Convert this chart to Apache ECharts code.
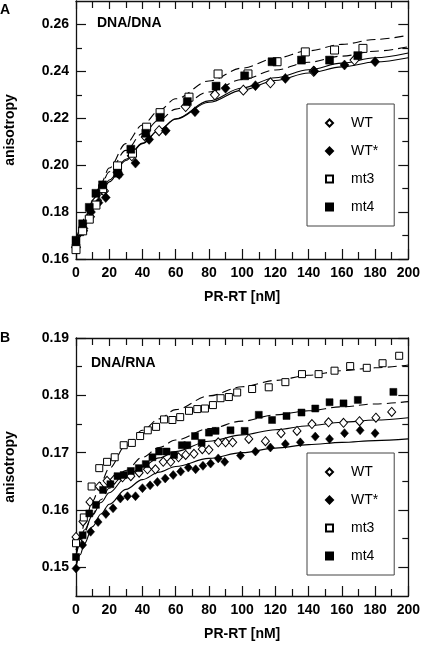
<!DOCTYPE html>
<html><head><meta charset="utf-8">
<script src="https://cdn.jsdelivr.net/npm/echarts@6/dist/echarts.min.js"></script>
<style>html,body{margin:0;padding:0;background:#fff}#c{width:423px;height:648px}</style>
</head><body><div id="c"></div>
<script>
// ---- tick values ----
const xMajor = [0,20,40,60,80,100,120,140,160,180,200];
const xMinor = [10,30,50,70,90,110,130,150,170,190];
const aYMajor = [0.16,0.18,0.20,0.22,0.24,0.26];
const aYMinor = [0.17,0.19,0.21,0.23,0.25];
const bYMajor = [0.15,0.16,0.17,0.18,0.19];
const bYMinor = [0.155,0.165,0.175,0.185];
const legendNames = ['WT','WT*','mt3','mt4'];

// ---- panel A data (DNA/DNA) ----
const aWT  = [[0,0.165],[4.2,0.172],[8.4,0.178],[12.6,0.185],[16.8,0.189],[25,0.197],[33.6,0.204],[42,0.212],[50,0.2147],[66,0.225],[83.6,0.230],[100.7,0.232],[117,0.2351],[143,0.240],[167.6,0.2448]];
const aWTs = [[0,0.166],[4.5,0.173],[9,0.180],[13.5,0.184],[17.9,0.1862],[26,0.196],[35.8,0.2009],[44,0.211],[54,0.2147],[71.6,0.2228],[90,0.2328],[108,0.2339],[126,0.2370],[143.4,0.2401],[161.6,0.2427],[180,0.2441]];
const aMt3 = [[0,0.164],[4,0.172],[8,0.177],[12,0.183],[16,0.190],[25,0.1997],[34,0.2051],[42.5,0.2162],[50.6,0.2224],[68,0.229],[85.5,0.2389],[103.5,0.2389],[121,0.2441],[138,0.2483],[155.6,0.2491],[172.7,0.2498]];
const aMt4 = [[0,0.168],[4,0.175],[8,0.182],[12,0.188],[16,0.1916],[25,0.1966],[33,0.2068],[42,0.2136],[50.6,0.2204],[67,0.2271],[84.3,0.2337],[101.5,0.2381],[118,0.2441],[135.7,0.2448],[152.6,0.2448],[169.6,0.2467]];

// ---- panel B data (DNA/RNA) ----
const bWT  = [[0,0.1553],[4.2,0.158],[8.4,0.1614],[14,0.1641],[18.7,0.1651],[23,0.1653],[28,0.1657],[33,0.1659],[38,0.1665],[43,0.1671],[47.8,0.1671],[52.5,0.1684],[57,0.1684],[61.7,0.1692],[66,0.1696],[71,0.1698],[76,0.1706],[80,0.1705],[85.6,0.1718],[90,0.1718],[94.3,0.1718],[104,0.1724],[114,0.1720],[123.4,0.1734],[133,0.1738],[142,0.1750],[152,0.1753],[161,0.1752],[170.6,0.1755],[180.5,0.1761],[190,0.1771]];
const bWTs = [[0,0.1498],[4,0.1539],[8.8,0.1562],[13.3,0.1579],[18,0.1593],[22.3,0.1603],[26.7,0.1620],[31,0.1624],[35.8,0.1624],[40,0.1638],[44.6,0.1643],[49,0.1649],[53.7,0.1655],[58.5,0.1661],[63,0.1667],[67.6,0.1674],[72,0.1671],[76.4,0.1677],[81,0.1681],[85.6,0.1690],[89.5,0.1684],[99,0.1695],[108,0.1702],[117,0.1709],[126,0.1715],[135,0.1718],[144,0.1728],[152.6,0.1724],[161.6,0.1734],[171,0.1739],[180,0.1734]];
const bMt3 = [[0,0.1542],[4.7,0.1587],[9.4,0.1641],[14,0.1673],[18.7,0.1684],[23.3,0.1692],[28.7,0.1713],[33.6,0.1717],[38.6,0.1729],[43.2,0.1739],[48.2,0.1745],[53,0.1758],[58,0.1757],[62.7,0.1762],[68,0.1773],[73,0.1776],[77.6,0.1777],[82.4,0.1783],[87,0.1795],[92,0.1797],[97,0.1805],[106,0.1811],[116,0.1814],[126,0.1823],[136,0.1837],[146,0.1837],[155.6,0.1843],[165,0.1851],[175,0.1848],[184.5,0.1856],[194.5,0.1869]];
const bMt4 = [[0,0.1518],[4,0.1556],[8,0.1594],[12,0.1609],[16.3,0.1635],[20.7,0.1645],[25,0.1659],[28.7,0.1661],[33,0.1668],[37.8,0.1673],[42,0.1680],[46,0.1692],[50,0.1702],[54.5,0.1702],[59,0.1696],[63.7,0.1713],[67,0.1713],[71.6,0.1729],[75.6,0.1717],[80,0.1735],[84,0.1738],[93,0.1739],[101.5,0.1738],[110,0.1766],[118,0.1757],[126.7,0.1764],[135.7,0.1770],[144,0.1777],[152.6,0.1788],[161,0.1786],[169.6,0.1792],[191,0.1806]];

// ---- fitted curves ----
const fitX    = [0,2.5,5,10,15,20,30,40,50,60,80,100,120,140,160,180,200];
const aWTfit  = [0.165,0.1695,0.1737,0.1811,0.1874,0.1929,0.2020,0.2092,0.2150,0.2198,0.2274,0.2329,0.2373,0.2407,0.2435,0.2458,0.2478];
const aWTsfit = [0.166,0.1705,0.1747,0.1820,0.1883,0.1937,0.2025,0.2094,0.2150,0.2196,0.2268,0.2320,0.2361,0.2393,0.2419,0.2440,0.2458];
const aMt3fit = [0.164,0.1700,0.1754,0.1846,0.1923,0.1988,0.2092,0.2171,0.2233,0.2283,0.2359,0.2414,0.2456,0.2488,0.2515,0.2536,0.2554];
const aMt4fit = [0.168,0.1728,0.1772,0.1850,0.1915,0.1972,0.2063,0.2135,0.2192,0.2239,0.2312,0.2365,0.2406,0.2439,0.2465,0.2486,0.2505];
const bWTfit  = [0.153,0.1548,0.1565,0.1591,0.1613,0.1630,0.1657,0.1676,0.1691,0.1702,0.1720,0.1731,0.1740,0.1747,0.1753,0.1757,0.1761];
const bWTsfit = [0.150,0.1522,0.1541,0.1571,0.1593,0.1610,0.1636,0.1653,0.1666,0.1676,0.1690,0.1700,0.1708,0.1714,0.1718,0.1721,0.1724];
const bMt3fit = [0.152,0.1549,0.1575,0.1616,0.1648,0.1673,0.1712,0.1739,0.1759,0.1775,0.1799,0.1815,0.1826,0.1835,0.1843,0.1848,0.1853];
const bMt4fit = [0.152,0.1542,0.1561,0.1593,0.1618,0.1638,0.1669,0.1692,0.1709,0.1722,0.1742,0.1755,0.1766,0.1773,0.1780,0.1785,0.1789];

const FONT = '"Liberation Sans", Arial, Helvetica, sans-serif';
const INK = '#111';
const chart = echarts.init(document.getElementById('c'), null, {renderer:'canvas'});

function xAxes(g, withName){
  const base = {gridIndex:g, type:'value', min:0, max:200, splitLine:{show:false}};
  return [
    Object.assign({}, base, {position:'bottom', interval:20,
      axisLine:{show:true, onZero:false, lineStyle:{color:INK, width:1.3}},
      axisTick:{show:true, inside:true, length:10, lineStyle:{color:INK, width:1.2}},
      minorTick:{show:true, splitNumber:2, length:7, lineStyle:{color:INK, width:1.2}},
      axisLabel:{show:true, margin:7, color:'#000', fontFamily:FONT, fontWeight:'bold', fontSize:14},
      name: withName, nameLocation:'middle', nameGap:31,
      nameTextStyle:{color:'#000', fontFamily:FONT, fontWeight:'bold', fontSize:14}}),
    Object.assign({}, base, {position:'top', interval:20,
      axisLine:{show:true, onZero:false, lineStyle:{color:INK, width:1.3}},
      axisTick:{show:true, inside:true, length:8, lineStyle:{color:INK, width:1.2}},
      minorTick:{show:true, splitNumber:2, length:7, lineStyle:{color:INK, width:1.2}},
      axisLabel:{show:false}})
  ];
}
function yAxes(g, min, max, majors, minors){
  const base = {gridIndex:g, type:'value', min:min, max:max, splitLine:{show:false}};
  const tk = (vals, len) => ({show:true, inside:true, length:len, customValues:vals, lineStyle:{color:INK, width:1.2}});
  return [
    Object.assign({}, base, {position:'left',
      axisLine:{show:true, onZero:false, lineStyle:{color:INK, width:1.3}},
      axisTick: tk(majors, 10),
      axisLabel:{show:true, customValues:majors, margin:7, color:'#000', fontFamily:FONT, fontWeight:'bold', fontSize:14,
        formatter: v => v.toFixed(2)}}),
    Object.assign({}, base, {position:'left', axisLine:{show:false, onZero:false}, axisTick: tk(minors, 6), axisLabel:{show:false}}),
    Object.assign({}, base, {position:'right',
      axisLine:{show:true, onZero:false, lineStyle:{color:INK, width:1.3}},
      axisTick: tk(majors, 10), axisLabel:{show:false}}),
    Object.assign({}, base, {position:'right', axisLine:{show:false, onZero:false}, axisTick: tk(minors, 6), axisLabel:{show:false}})
  ];
}

const styles = {
  'WT':  {symbol:'diamond', itemStyle:{color:'#fff', borderColor:'#000', borderWidth:1, opacity:1}},
  'WT*': {symbol:'diamond', itemStyle:{color:'#000', borderColor:'#000', borderWidth:0.5, opacity:1}},
  'mt3': {symbol:'rect', itemStyle:{color:'#fff', borderColor:'#000', borderWidth:1, opacity:1}},
  'mt4': {symbol:'rect', itemStyle:{color:'#000', borderColor:'#000', borderWidth:0.5, opacity:1}}
};
function scatter(name, g, data, sq, di){
  const s = styles[name];
  return {type:'scatter', name:name, xAxisIndex:g*2, yAxisIndex:g*4, data:data,
    symbol:s.symbol, symbolSize: s.symbol==='rect'? sq : di, itemStyle:s.itemStyle, z:5, silent:true};
}
function fit(g, ys, dashed){
  return {type:'line', xAxisIndex:g*2, yAxisIndex:g*4, data: fitX.map((x,i)=>[x, ys[i]]),
    smooth:0.35, smoothMonotone:'x', showSymbol:false, symbol:'none', z:2, silent:true,
    lineStyle:{color:'#000', width:1.1, type: dashed ? [9,5] : 'solid'}};
}
function legend(g, top){
  return {data: legendNames.map(n => ({name:n})), orient:'vertical', left:307, top:top,
    itemWidth:7, itemHeight:7, itemGap:14, padding:[12,16,12,18],
    borderColor:'#444', borderWidth:1, backgroundColor:'#fff', selectedMode:false,
    itemStyle:{opacity:1},
    textStyle:{color:'#000', fontFamily:FONT, fontSize:14, padding:[0,0,0,13]}};
}

const option = {
  animation:false,
  backgroundColor:'#fff',
  grid:[
    {left:76, top:1, width:335, height:258},
    {left:76, top:338, width:335, height:258}
  ],
  xAxis: [...xAxes(0,'PR-RT [nM]'), ...xAxes(1,'PR-RT [nM]')],
  yAxis: [...yAxes(0,0.16,0.27,aYMajor,aYMinor), ...yAxes(1,0.145,0.19,bYMajor,bYMinor)],
  legend:[legend(0,104), legend(1,453)],
  series:[
    fit(0,aWTfit,false), fit(0,aWTsfit,false), fit(0,aMt3fit,true), fit(0,aMt4fit,true),
    scatter('WT',0,aWT,8,[9,10]), scatter('WT*',0,aWTs,8,[9,10]), scatter('mt3',0,aMt3,8,[9,10]), scatter('mt4',0,aMt4,8,[9,10]),
    fit(1,bWTfit,false), fit(1,bWTsfit,false), fit(1,bMt3fit,true), fit(1,bMt4fit,true),
    scatter('WT',1,bWT,7,[8,9]), scatter('WT*',1,bWTs,7,[8,9]), scatter('mt3',1,bMt3,7,[8,9]), scatter('mt4',1,bMt4,7,[8,9])
  ],
  graphic:[
    {type:'text', left:0, top:3, style:{text:'A', font:'bold 14px '+FONT, fill:'#000'}},
    {type:'text', left:0, top:331, style:{text:'B', font:'bold 14px '+FONT, fill:'#000'}},
    {type:'text', left:97, top:16, style:{text:'DNA/DNA', font:'bold 14px '+FONT, fill:'#000'}},
    {type:'text', left:91, top:356, style:{text:'DNA/RNA', font:'bold 14px '+FONT, fill:'#000'}},
    {type:'text', x:10, y:130, rotation:Math.PI/2, style:{text:'anisotropy', font:'bold 14px '+FONT, fill:'#000', align:'center', verticalAlign:'middle'}},
    {type:'text', x:10, y:467, rotation:Math.PI/2, style:{text:'anisotropy', font:'bold 14px '+FONT, fill:'#000', align:'center', verticalAlign:'middle'}}
  ]
};
chart.setOption(option);
</script>
</body></html>
